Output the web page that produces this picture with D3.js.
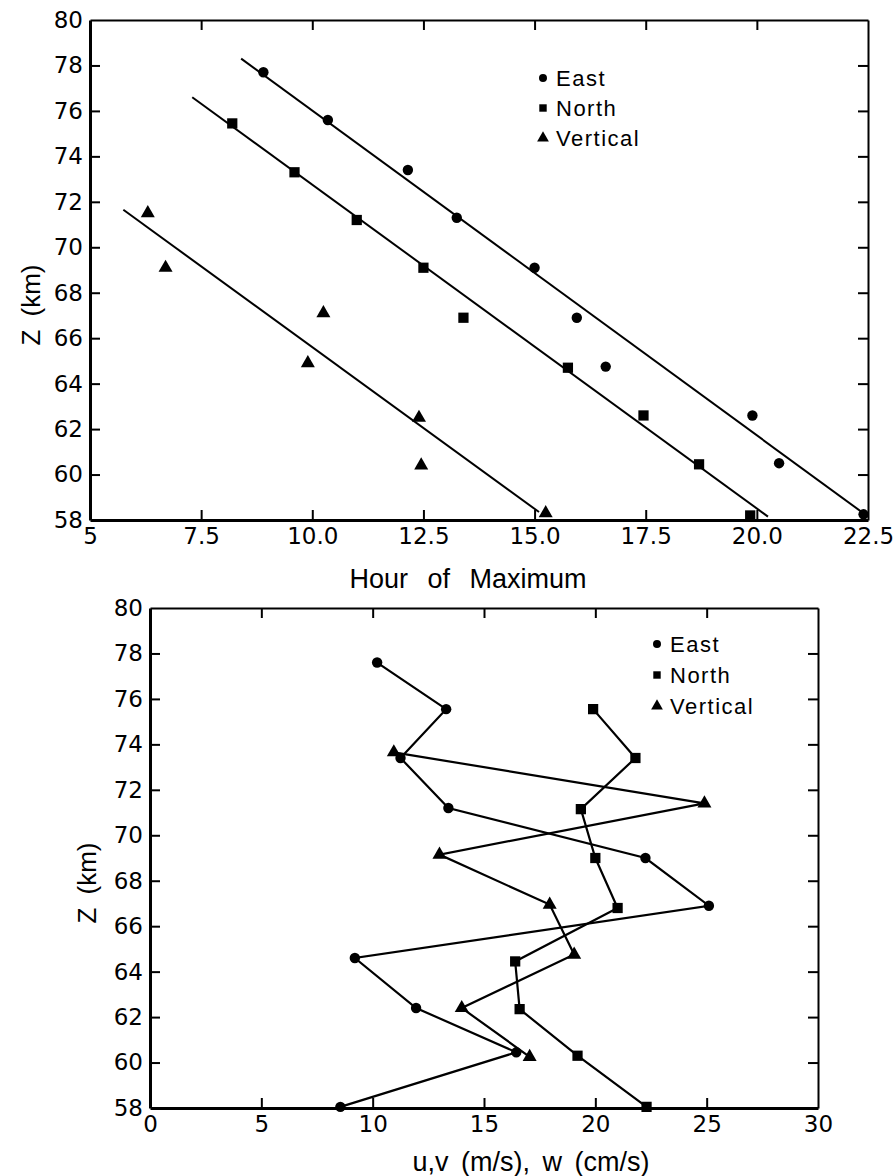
<!DOCTYPE html>
<html>
<head>
<meta charset="utf-8">
<script src="https://cdn.jsdelivr.net/npm/d3@7"></script>
<style>
  body { margin: 0; background: #fff; }
  svg { display: block; }
</style>
</head>
<body>
<svg id="chart" width="893" height="1176"></svg>
<script>
// ---- shared ticks
const zTicks = [58, 60, 62, 64, 66, 68, 70, 72, 74, 76, 78, 80];
const hourTicks = [5, 7.5, 10, 12.5, 15, 17.5, 20, 22.5];
const hourTickLabels = ["5", "7.5", "10.0", "12.5", "15.0", "17.5", "20.0", "22.5"];
const speedTicks = [0, 5, 10, 15, 20, 25, 30];

const seriesNames = ["East", "North", "Vertical"];

// ---- top panel: hour of maximum vs altitude
const eastHour  = [8.9, 10.35, 12.15, 13.25, 15.0, 15.95, 16.6, 19.9, 20.5, 22.4];
const eastHourZ = [77.7, 75.6, 73.4, 71.3, 69.1, 66.9, 64.75, 62.6, 60.5, 58.25];
const northHour  = [8.2, 9.6, 11.0, 12.5, 13.4, 15.75, 17.45, 18.7, 19.85];
const northHourZ = [75.45, 73.3, 71.2, 69.1, 66.9, 64.7, 62.6, 60.45, 58.2];
const vertHour  = [6.3, 6.7, 10.25, 9.9, 12.4, 12.45, 15.25];
const vertHourZ = [71.5, 69.1, 67.1, 64.9, 62.5, 60.4, 58.3];

// fitted lines (east, north, vertical)
const fitHourStart = [8.4, 7.3, 5.75];
const fitZStart    = [78.3, 76.6, 71.65];
const fitHourEnd   = [22.5, 20.25, 15.1];
const fitZEnd      = [58.15, 58.15, 58.35];

// ---- bottom panel: amplitude vs altitude
const eastSpeed  = [10.2, 13.3, 11.25, 13.4, 22.25, 25.1, 9.2, 11.95, 16.45, 8.55];
const eastSpeedZ = [77.6, 75.55, 73.4, 71.2, 69.0, 66.9, 64.6, 62.4, 60.45, 58.05];
const northSpeed  = [19.9, 21.8, 19.35, 20.0, 21.0, 16.4, 16.6, 19.2, 22.3];
const northSpeedZ = [75.55, 73.4, 71.15, 69.0, 66.8, 64.45, 62.35, 60.3, 58.05];
const vertSpeed  = [10.95, 24.9, 13.0, 17.95, 19.05, 14.0, 17.05];
const vertSpeedZ = [73.65, 71.4, 69.15, 66.95, 64.75, 62.4, 60.25];

const svgEl = d3.select("#chart");
const font = '"Liberation Sans", Arial, sans-serif';
const tickFont = '"DejaVu Sans", sans-serif';
const legendFont = '"Liberation Sans Narrow", "Liberation Sans", sans-serif';

const symbolTypes = [d3.symbolCircle, d3.symbolSquare, d3.symbolTriangle];
const symbolSizes = [85, 105, 85];
const legendSizes = [50, 55, 60];

function zip(xs, ys) { return xs.map((x, i) => ({ x: x, z: ys[i] })); }

function drawPanel(p) {
  const xScale = d3.scaleLinear().domain(p.xDomain).range([p.left, p.right]);
  const yScale = d3.scaleLinear().domain([58, 80]).range([p.bottom, p.top]);

  const g = svgEl.append("g");

  // frame axes, ticks pointing inward
  const topAxis = g.append("g")
    .attr("transform", `translate(0,${p.top})`)
    .call(d3.axisTop(xScale).tickValues(p.xTicks).tickSize(-10).tickSizeOuter(0).tickFormat(""));
  const rightAxis = g.append("g")
    .attr("transform", `translate(${p.right},0)`)
    .call(d3.axisRight(yScale).tickValues(zTicks).tickSize(-10).tickSizeOuter(0).tickFormat(""));
  const bottomAxis = g.append("g")
    .attr("transform", `translate(0,${p.bottom})`)
    .call(d3.axisBottom(xScale).tickValues(p.xTicks).tickSize(-10).tickSizeOuter(0).tickPadding(8)
      .tickFormat((d, i) => p.xLabels[i]));
  const leftAxis = g.append("g")
    .attr("transform", `translate(${p.left},0)`)
    .call(d3.axisLeft(yScale).tickValues(zTicks).tickSize(-10).tickSizeOuter(0).tickPadding(7));

  [topAxis, rightAxis].forEach(a => {
    a.select(".domain").attr("stroke", "#000").attr("stroke-width", 2);
    a.selectAll("line").attr("stroke", "#000").attr("stroke-width", 2);
  });
  [bottomAxis, leftAxis].forEach(a => {
    a.attr("font-family", tickFont).attr("font-size", 23);
    a.select(".domain").attr("stroke", "#000").attr("stroke-width", 3);
    a.selectAll("line").attr("stroke", "#000").attr("stroke-width", 2);
    a.selectAll("text")
      .attr("font-family", tickFont)
      .attr("font-size", 23)
      .attr("fill", "#000");
  });
  // drop the ticks that sit on the frame corners
  leftAxis.selectAll(".tick line").filter(d => d === 58 || d === 80).remove();
  rightAxis.selectAll(".tick line").filter(d => d === 58 || d === 80).remove();
  bottomAxis.selectAll(".tick line").filter((d, i, n) => i === 0 || i === n.length - 1).remove();
  topAxis.selectAll(".tick line").filter((d, i, n) => i === 0 || i === n.length - 1).remove();

  // axis titles
  g.append("text")
    .attr("x", p.xTitleX).attr("y", p.xTitleY)
    .attr("text-anchor", "middle")
    .attr("font-family", font).attr("font-size", p.xTitleSize)
    .attr("word-spacing", p.wordSpacing)
    .text(p.xTitle);
  g.append("text")
    .attr("transform", `translate(${p.yTitleX},${p.yTitleY}) rotate(-90)`)
    .attr("text-anchor", "middle")
    .attr("font-family", font).attr("font-size", 26)
    .attr("word-spacing", 6)
    .text("Z (km)");

  const lineGen = d3.line().x(d => xScale(d.x)).y(d => yScale(d.z));

  if (p.fits) {
    p.fits.forEach(f => {
      g.append("path").datum(f).attr("d", lineGen)
        .attr("fill", "none").attr("stroke", "#000").attr("stroke-width", 2);
    });
  }

  p.series.forEach((s, si) => {
    if (p.connect) {
      g.append("path").datum(s).attr("d", lineGen)
        .attr("fill", "none").attr("stroke", "#000").attr("stroke-width", 2.2);
    }
    g.append("g").selectAll("path.pt")
      .data(s).enter().append("path")
      .attr("class", "pt")
      .attr("transform", d => `translate(${xScale(d.x)},${yScale(d.z)})`)
      .attr("d", d3.symbol().type(symbolTypes[si]).size(symbolSizes[si]))
      .attr("fill", "#000");
  });

  // legend
  const leg = g.append("g").attr("transform", `translate(${p.legendX},${p.legendY})`);
  seriesNames.forEach((name, i) => {
    leg.append("path")
      .attr("transform", `translate(0,${i * p.legendStep})`)
      .attr("d", d3.symbol().type(symbolTypes[i]).size(legendSizes[i]))
      .attr("fill", "#000");
    leg.append("text")
      .attr("x", 13).attr("y", i * p.legendStep)
      .attr("dy", "0.36em")
      .attr("font-family", legendFont).attr("font-size", 22)
      .attr("letter-spacing", 1.5)
      .text(name);
  });
}

drawPanel({
  left: 90, right: 868, top: 20, bottom: 520,
  xDomain: [5, 22.5], xTicks: hourTicks, xLabels: hourTickLabels,
  xTitle: "Hour of Maximum", xTitleX: 468, xTitleY: 588, xTitleSize: 27, wordSpacing: 12,
  yTitleX: 40, yTitleY: 305,
  series: [zip(eastHour, eastHourZ), zip(northHour, northHourZ), zip(vertHour, vertHourZ)],
  fits: fitHourStart.map((h, i) => [{ x: h, z: fitZStart[i] }, { x: fitHourEnd[i], z: fitZEnd[i] }]),
  connect: false,
  legendX: 543, legendY: 78, legendStep: 30
});

drawPanel({
  left: 150, right: 818, top: 608, bottom: 1108,
  xDomain: [0, 30], xTicks: speedTicks, xLabels: speedTicks.map(String),
  xTitle: "u,v (m/s), w (cm/s)", xTitleX: 531, xTitleY: 1171, xTitleSize: 27, wordSpacing: 5,
  yTitleX: 96, yTitleY: 883,
  series: [zip(eastSpeed, eastSpeedZ), zip(northSpeed, northSpeedZ), zip(vertSpeed, vertSpeedZ)],
  fits: null,
  connect: true,
  legendX: 657, legendY: 644, legendStep: 31
});
</script>
</body>
</html>
